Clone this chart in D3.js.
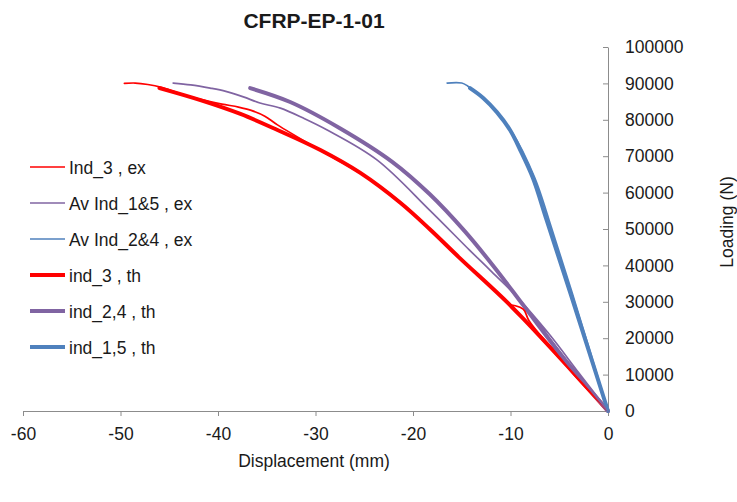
<!DOCTYPE html>
<html>
<head>
<meta charset="utf-8">
<script src="https://cdn.jsdelivr.net/npm/d3@7"></script>
<style>
  body { margin: 0; background: #fff; }
  svg text { font-family: "Liberation Sans", Arial, sans-serif; fill: #1a1a1a; }
</style>
</head>
<body>
<svg id="chart" width="737" height="502"></svg>
<script>
// displacement (mm), loading (N)
const ind3Ex = [
  [0, 0], [-4.5, 13200], [-8.1, 24800], [-8.7, 28000], [-10.1, 29000], [-7, 21000],
  [-3.5, 10000], [0, 0], [-5, 14500], [-10, 29000], [-15.2, 42000], [-18.3, 50000],
  [-21.3, 57400], [-25.4, 65300], [-29.5, 71600], [-33.9, 78600], [-35.2, 81000],
  [-36.6, 82600], [-37.9, 83500], [-39.6, 84300], [-41.8, 85600], [-44, 87300],
  [-45.8, 88900], [-47.2, 89700], [-48.5, 90100], [-49.6, 90000]
];
const avInd15Ex = [
  [0, 0], [-4.9, 16000], [-9.0, 30300], [-6, 21000], [-3, 10500], [0, 0],
  [-4.92, 16200], [-9.03, 30500], [-12.1, 38700], [-14.2, 44200], [-18.3, 55200],
  [-23.7, 69000], [-28.8, 77200], [-31.2, 80400], [-33.6, 83200], [-35.7, 84600],
  [-37.4, 86300], [-39.2, 87800], [-40.8, 88700], [-42.8, 89600], [-44.6, 90100]
];
const avInd24Ex = [
  [0, 0], [-3.7, 32700], [-6.05, 52500], [-7.5, 64000], [-9.85, 76600],
  [-12.6, 85400], [-14.4, 89300], [-15, 90100], [-16.5, 90100]
];
const ind3Th = [
  [0, 0], [-5, 14800], [-10.05, 29100], [-15.2, 42000], [-18.3, 50000], [-21.3, 57200],
  [-25.4, 65400], [-29.5, 71700], [-33.9, 77200], [-37.7, 81600], [-41.8, 85400],
  [-46, 88700]
];
const ind24Th = [
  [0, 0], [-4.4, 14000], [-8.7, 29100], [-11.6, 39300], [-14.7, 49400],
  [-18.3, 59600], [-22.1, 68400], [-27.5, 77700], [-32.6, 84900], [-36.7, 88700]
];
const ind15Th = [
  [0, 0], [-3.9, 32700], [-6.3, 52500], [-7.7, 64000], [-9.0, 71700],
  [-10.05, 77200], [-11.4, 82100], [-12.8, 86000], [-14.15, 88700]
];

const xTicks = [-60, -50, -40, -30, -20, -10, 0];
const yTicks = [0, 10000, 20000, 30000, 40000, 50000, 60000, 70000, 80000, 90000, 100000];

const red = "#ff0000", purple = "#8064a2", blue = "#4f81bd";
const series = [
  { name: "Ind_3 , ex", data: ind3Ex, color: red, w: 1.7 },
  { name: "Av Ind_1&5 , ex", data: avInd15Ex, color: purple, w: 1.7 },
  { name: "Av Ind_2&4 , ex", data: avInd24Ex, color: blue, w: 1.7 },
  { name: "ind_3 , th", data: ind3Th, color: red, w: 4 },
  { name: "ind_2,4 , th", data: ind24Th, color: purple, w: 4 },
  { name: "ind_1,5 , th", data: ind15Th, color: blue, w: 4 }
];

const svg = d3.select("#chart");
const x = d3.scaleLinear().domain([-60, 0]).range([23, 608]);
const y = d3.scaleLinear().domain([0, 100000]).range([411, 47]);
const axisColor = "#8c8c8c";
const fontSize = "17.5px";

// x axis
const gx = svg.append("g").attr("transform", "translate(0,411)")
  .call(d3.axisBottom(x).tickValues(xTicks).tickFormat(d => String(d))
    .tickSize(5).tickPadding(12).tickSizeOuter(0));
gx.select(".domain").attr("stroke", axisColor);
gx.selectAll(".tick line").attr("stroke", axisColor);
gx.selectAll(".tick text").style("font-size", fontSize).attr("fill", "#1a1a1a");

// y axis: ticks to the left, labels on the right
const gy = svg.append("g").attr("transform", "translate(608,0)")
  .call(d3.axisLeft(y).tickValues(yTicks).tickFormat(d => String(d))
    .tickSize(5).tickSizeOuter(0));
gy.select(".domain").attr("stroke", axisColor);
gy.selectAll(".tick line").attr("stroke", axisColor);
gy.selectAll(".tick text")
  .attr("x", 17).attr("text-anchor", "start")
  .style("font-size", fontSize).attr("fill", "#1a1a1a");

const line = d3.line().curve(d3.curveCatmullRom.alpha(0.5))
  .x(d => x(d[0])).y(d => y(d[1]));

// thick theory lines first, experiments on top
[3, 4, 5, 0, 1, 2].forEach(i => {
  const s = series[i];
  svg.append("path")
    .attr("d", line(s.data))
    .attr("fill", "none")
    .attr("stroke", s.color)
    .attr("stroke-width", s.w)
    .attr("stroke-linejoin", "round")
    .attr("stroke-linecap", "round");
});

// legend
const leg = svg.append("g");
series.forEach((s, i) => {
  const ly = 167 + i * 36;
  leg.append("line")
    .attr("x1", 30).attr("x2", 65).attr("y1", ly).attr("y2", ly)
    .attr("stroke", s.color).attr("stroke-width", s.w);
  leg.append("text")
    .attr("x", 69).attr("y", ly + 6.5)
    .style("font-size", fontSize)
    .text(s.name);
});

// titles
svg.append("text")
  .attr("x", 314).attr("y", 28)
  .attr("text-anchor", "middle")
  .style("font-size", "21px").style("font-weight", "bold")
  .text("CFRP-EP-1-01");

svg.append("text")
  .attr("x", 314).attr("y", 467)
  .attr("text-anchor", "middle")
  .style("font-size", fontSize)
  .text("Displacement (mm)");

svg.append("text")
  .attr("transform", "translate(733,222) rotate(-90)")
  .attr("text-anchor", "middle")
  .style("font-size", fontSize)
  .text("Loading (N)");
</script>
</body>
</html>
